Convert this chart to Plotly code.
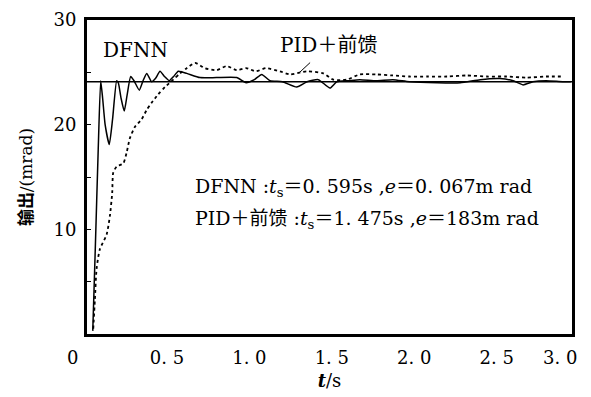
import plotly.graph_objects as go

# ---- data ----
dfnn_t = [0.050, 0.065, 0.083, 0.098, 0.110, 0.125, 0.150, 0.170, 0.195, 0.205, 0.222, 0.241,
          0.258, 0.280, 0.300, 0.332, 0.355, 0.377, 0.407, 0.430, 0.458, 0.485, 0.514, 0.540,
          0.569, 0.620, 0.700, 0.800, 0.923, 0.980, 1.030, 1.075, 1.125, 1.200, 1.287, 1.350,
          1.418, 1.489, 1.530, 1.600, 1.670, 1.770, 1.870, 1.970, 2.140, 2.280, 2.400, 2.520,
          2.600, 2.660, 2.720, 2.800, 2.900, 2.950]
dfnn_y = [0.3, 8.0, 17.6, 24.2, 22.5, 20.0, 18.1, 20.5, 24.2, 24.0, 22.5, 21.3,
          22.8, 24.6, 24.2, 23.3, 24.2, 24.9, 24.1, 24.4, 25.1, 24.6, 24.2, 24.6,
          25.1, 24.9, 24.5, 24.5, 24.5, 24.0, 24.3, 24.8, 24.2, 24.1, 23.6, 24.1,
          24.3, 23.5, 24.1, 24.2, 24.3, 24.2, 24.3, 24.1, 24.0, 24.0, 24.3, 24.4,
          24.2, 23.8, 24.1, 24.2, 24.1, 24.1]

pid_t = [0.053, 0.063, 0.073, 0.093, 0.134, 0.154, 0.168, 0.174, 0.195, 0.235, 0.255, 0.275,
         0.306, 0.346, 0.377, 0.407, 0.447, 0.488, 0.538, 0.579, 0.620, 0.670, 0.730, 0.800,
         0.862, 0.923, 0.980, 1.040, 1.100, 1.185, 1.246, 1.348, 1.448, 1.510, 1.590, 1.670,
         1.770, 1.870, 1.970, 2.080, 2.200, 2.320, 2.440, 2.560, 2.680, 2.800, 2.905]
pid_y = [0.5, 3.3, 6.2, 8.1, 9.5, 11.3, 13.5, 15.4, 16.0, 16.3, 17.3, 18.7,
         19.8, 20.5, 21.4, 22.1, 22.9, 23.6, 24.3, 24.9, 25.4, 25.9, 25.4, 25.2,
         25.6, 25.2, 25.4, 25.1, 25.4, 25.1, 24.8, 25.1, 24.9, 24.3, 24.3, 24.8,
         24.8, 24.7, 24.6, 24.6, 24.6, 24.7, 24.6, 24.6, 24.5, 24.6, 24.6]

SETPOINT = 24.1

x_tickvals = [0.5, 1.0, 1.5, 2.0, 2.5]
x_ticktext = ["0. 5", "1. 0", "1. 5", "2. 0", "2. 5"]
y_tickvals = [10, 20, 30]
y_ticktext = ["10", "20", "30"]

X_RANGE = [0.015, 2.957]
Y_RANGE = [0, 30]

FONT = "DejaVu Serif, Noto Sans CJK SC, serif"

fig = go.Figure()
fig.add_trace(go.Scatter(x=pid_t, y=pid_y, mode="lines", name="PID+前馈",
                         line=dict(color="black", width=1.8, dash="dot",
                                   shape="spline", smoothing=0.6)))
fig.add_trace(go.Scatter(x=dfnn_t, y=dfnn_y, mode="lines", name="DFNN",
                         line=dict(color="black", width=1.5, shape="spline", smoothing=0.5)))

fig.add_shape(type="line", xref="paper", x0=0, x1=1, yref="y", y0=SETPOINT, y1=SETPOINT,
              line=dict(color="black", width=1.4))

def xpaper(t):
    return (t - X_RANGE[0]) / (X_RANGE[1] - X_RANGE[0])

# outer tick labels (outside axis range)
fig.add_annotation(x=xpaper(0.0) - 0.04, y=-0.076, xref="paper", yref="paper", text="0",
                   showarrow=False, yanchor="middle", font=dict(family=FONT, size=18, color="black"))
fig.add_annotation(x=xpaper(3.0), y=-0.076, xref="paper", yref="paper", text="3. 0",
                   showarrow=False, yanchor="middle", font=dict(family=FONT, size=18, color="black"))

fig.add_annotation(x=0.312, y=27.1, text="DFNN", showarrow=False,
                   font=dict(family=FONT, size=20, color="black"))
fig.add_annotation(x=1.307, y=25.03, text="PID＋前馈", showarrow=True, arrowhead=0,
                   arrowwidth=1, arrowcolor="black", ax=29, ay=-27, startstandoff=6,
                   font=dict(family=FONT, size=20, color="black"))

fig.add_annotation(x=0.66, y=13.95, text="DFNN :<i>t</i><sub>s</sub>＝0. 595s ,<i>e</i>＝0. 067m rad",
                   showarrow=False, xanchor="left",
                   font=dict(family=FONT, size=19, color="black"))
fig.add_annotation(x=0.66, y=10.9, text="PID＋前馈 :<i>t</i><sub>s</sub>＝1. 475s ,<i>e</i>＝183m rad",
                   showarrow=False, xanchor="left",
                   font=dict(family=FONT, size=19, color="black"))

fig.update_layout(
    width=583, height=389,
    margin=dict(l=79, r=19, t=12, b=63),
    paper_bgcolor="white", plot_bgcolor="white",
    showlegend=False,
    font=dict(family=FONT, size=18, color="black"),
)
fig.update_xaxes(range=X_RANGE, automargin=False, showgrid=False, zeroline=False,
                 showline=True, mirror=True,
                 linecolor="black", linewidth=3, ticks="", tickvals=x_tickvals,
                 ticktext=x_ticktext, ticklabelstandoff=5,
                 tickfont=dict(family=FONT, size=18, color="black"),
                 title=dict(text="<i><b>t</b></i>/s", font=dict(family=FONT, size=18, color="black"),
                            standoff=8))
fig.update_yaxes(range=Y_RANGE, automargin=False, showgrid=False, zeroline=False,
                 showline=True, mirror=True,
                 linecolor="black", linewidth=3, ticks="inside", ticklen=4, tickwidth=1.2,
                 tickcolor="black", tickvals=y_tickvals, ticktext=y_ticktext,
                 minor=dict(ticks="inside", ticklen=4, tickwidth=1.2, tickcolor="black", dtick=5),
                 ticklabelstandoff=4,
                 tickfont=dict(family=FONT, size=18, color="black"),
                 title=dict(text="<b>输出</b>/(mrad)", font=dict(family=FONT, size=17, color="black"),
                            standoff=17))

fig.write_html("out.html")
